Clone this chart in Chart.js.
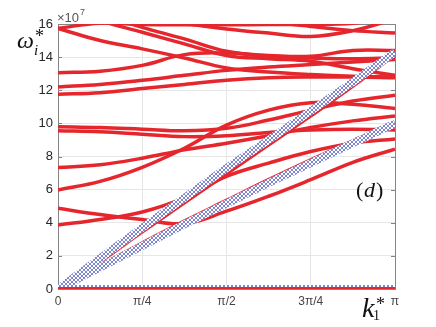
<!DOCTYPE html>
<html>
<head>
<meta charset="utf-8">
<script src="https://cdn.jsdelivr.net/npm/chart.js@4"></script>
<style>
  html, body { margin: 0; padding: 0; background: #fff; }
</style>
</head>
<body>
<canvas id="disp" width="436" height="327"></canvas>
<script>
// wave number k1* (0..pi), sampled every pi/8
const kGrid = [0, 0.3927, 0.7854, 1.1781, 1.5708, 1.9635, 2.3562, 2.7489, 3.1416];
const kTicks = [0, 0.7854, 1.5708, 2.3562, 3.1416];
const kTickLabels = ['0', 'π/4', 'π/2', '3π/4', 'π'];

// frequencies omega_i* in units of 1e7
const band00 = [0, 0, 0, 0, 0, 0, 0, 0, 0];
const band01 = [4.87, 4.5, 4.2, 3.95, 4.7, 5.6, 6.6, 7.65, 8.45];
const band02 = [3.86, 4.2, 4.65, 5.5, 6.8, 7.6, 8.3, 8.8, 9.06];
const band03 = [0, 1.42, 2.78, 4.1, 5.35, 6.6, 7.8, 8.95, 10.05];
const band04 = [0, 1.65, 3.45, 5.2, 6.95, 8.7, 10.45, 12.25, 14.15];
const band05 = [7.33, 7.5, 7.9, 8.4, 8.8, 9.25, 9.75, 10.15, 10.45];
const band06 = [5.98, 6.5, 7.35, 8.5, 9.9, 10.8, 11.25, 11.15, 10.9];
const band07 = [9.56, 9.5, 9.35, 9.2, 9.25, 9.45, 9.6, 9.65, 9.6];
const band08 = [9.8, 9.75, 9.65, 9.55, 9.7, 10.2, 10.8, 11.35, 11.7];
const band09 = [11.76, 11.85, 12.1, 12.35, 12.6, 12.75, 12.8, 12.8, 12.75];
const band10 = [12.2, 12.35, 12.6, 12.9, 13.2, 13.4, 13.55, 13.7, 13.85];
const band11 = [15.74, 15.0, 14.5, 13.95, 13.35, 13.1, 12.95, 12.85, 12.8];
const band12 = [13.06, 13.15, 13.5, 14.15, 14.25, 14.1, 14.05, 14.4, 14.4];
const band13 = [17.1, 16.2, 15.5, 14.8, 14.1, 13.9, 13.75, 13.3, 12.9];
const band14 = [17.3, 16.55, 15.8, 15.1, 14.35, 14.05, 13.95, 13.9, 13.95];
const band15 = [15.74, 16.05, 15.97, 15.95, 15.95, 15.97, 15.98, 16.05, 16.4];
const band16 = [19, 18.4, 17.8, 17.2, 16.6, 16.15, 15.85, 15.6, 15.46];
const band17 = [17.5, 17.0, 16.5, 16.05, 15.7, 15.45, 15.25, 15.6, 16.3];

// branches marked with blue circles
const circ00 = [0, 0, 0, 0, 0, 0, 0, 0, 0];
const circ01 = [0, 1.3, 2.6, 3.9, 5.15, 6.4, 7.6, 8.8, 10.0];
const circ02 = [0, 1.85, 3.7, 5.5, 7.3, 9.0, 10.75, 12.5, 14.3];

const redBands = [band01, band02, band03, band04, band05, band06, band07, band08, band09,
  band10, band11, band12, band13, band14, band15, band16, band17];
const circBands = [circ00, circ01, circ02];

const red = '#e5262c';

// small tile of rings, used as the stroke of the circle-marked branches
function ringPattern() {
  const c = document.createElement('canvas');
  c.width = 4; c.height = 4;
  const g = c.getContext('2d');
  g.fillStyle = '#ffffff';
  g.fillRect(0, 0, 4, 4);
  g.fillStyle = '#7f88cc';
  [[1, 0], [2, 0], [0, 1], [3, 1], [0, 2], [3, 2], [1, 3], [2, 3]].forEach(p => g.fillRect(p[0], p[1], 1, 1));
  return g.createPattern(c, 'repeat');
}
const rings = ringPattern();

function toXY(vals) {
  return vals.map((v, i) => ({ x: kGrid[i], y: v }));
}

const datasets = [];
// zero branch: red drawn over the circles
datasets.push({ data: toXY(band00), borderColor: red, borderWidth: 4, order: -1 });
circBands.forEach(b => {
  datasets.push({ data: toXY(b), borderColor: rings, borderWidth: 8, order: 0, tension: 0.3 });
});
redBands.forEach(b => {
  datasets.push({ data: toXY(b), borderColor: red, borderWidth: 3.5, order: 1, tension: 0.4 });
});

const frame = {
  id: 'frame',
  beforeDatasetsDraw(chart) {
    const ctx = chart.ctx, a = chart.chartArea, ys = chart.scales.y;
    ctx.save();
    ctx.strokeStyle = '#858585';
    ctx.lineWidth = 1;
    ctx.strokeRect(a.left + 0.5, a.top + 0.5, a.right - a.left, a.bottom - a.top);
    for (let v = 0; v <= 16; v += 2) {
      const py = Math.round(ys.getPixelForValue(v)) + 0.5;
      ctx.beginPath();
      ctx.moveTo(a.right, py); ctx.lineTo(a.right - 4, py);
      ctx.moveTo(a.left, py); ctx.lineTo(a.left + 4, py);
      ctx.stroke();
    }
    ctx.restore();
  },
  afterDraw(chart) {
    const ctx = chart.ctx;
    ctx.save();
    ctx.fillStyle = '#555';
    ctx.font = '13px "Liberation Sans"';
    ctx.fillText('×10', 57, 22);
    ctx.font = '9px "Liberation Sans"';
    ctx.fillText('7', 80, 15);

    ctx.fillStyle = '#111';
    ctx.font = 'italic 24px "Liberation Serif"';
    ctx.fillText('ω', 17, 48);
    ctx.font = 'italic 15px "Liberation Serif"';
    ctx.fillText('i', 34, 55);
    ctx.font = '18px "Liberation Serif"';
    ctx.fillText('*', 35, 42);

    ctx.font = 'italic 28px "Liberation Serif"';
    ctx.fillText('k', 362, 317);
    ctx.font = '14px "Liberation Serif"';
    ctx.fillText('1', 373, 320);
    ctx.font = '18px "Liberation Serif"';
    ctx.fillText('*', 376, 310);

    ctx.font = '22px "Liberation Serif"';
    ctx.fillText('(', 356, 197);
    ctx.font = 'italic 22px "Liberation Serif"';
    ctx.fillText('d', 364, 197);
    ctx.font = '22px "Liberation Serif"';
    ctx.fillText(')', 376, 197);
    ctx.restore();
  }
};

new Chart(document.getElementById('disp'), {
  type: 'line',
  data: { datasets: datasets },
  options: {
    responsive: false,
    animation: false,
    devicePixelRatio: 1,
    layout: { padding: { left: 0, right: 41, top: 24, bottom: 0 } },
    elements: { point: { radius: 0 }, line: { fill: false } },
    plugins: { legend: { display: false }, tooltip: { enabled: false } },
    scales: {
      x: {
        type: 'linear', min: 0, max: 3.1416,
        afterBuildTicks: s => { s.ticks = kTicks.map(v => ({ value: v })); },
        afterFit: s => { s.height = 38; },
        ticks: {
          callback: (v, i) => kTickLabels[i],
          color: '#444', font: { size: 12, family: 'Liberation Sans' }, padding: 5, maxRotation: 0
        },
        grid: { color: '#e6e6e6', drawTicks: false },
        border: { color: '#858585' }
      },
      y: {
        min: 0, max: 16,
        afterFit: s => { s.width = 58; },
        ticks: { stepSize: 2, color: '#262626', font: { size: 13, family: 'Liberation Sans' }, padding: 5 },
        grid: { color: '#e6e6e6', drawTicks: false },
        border: { color: '#858585' }
      }
    }
  },
  plugins: [frame]
});
</script>
</body>
</html>
